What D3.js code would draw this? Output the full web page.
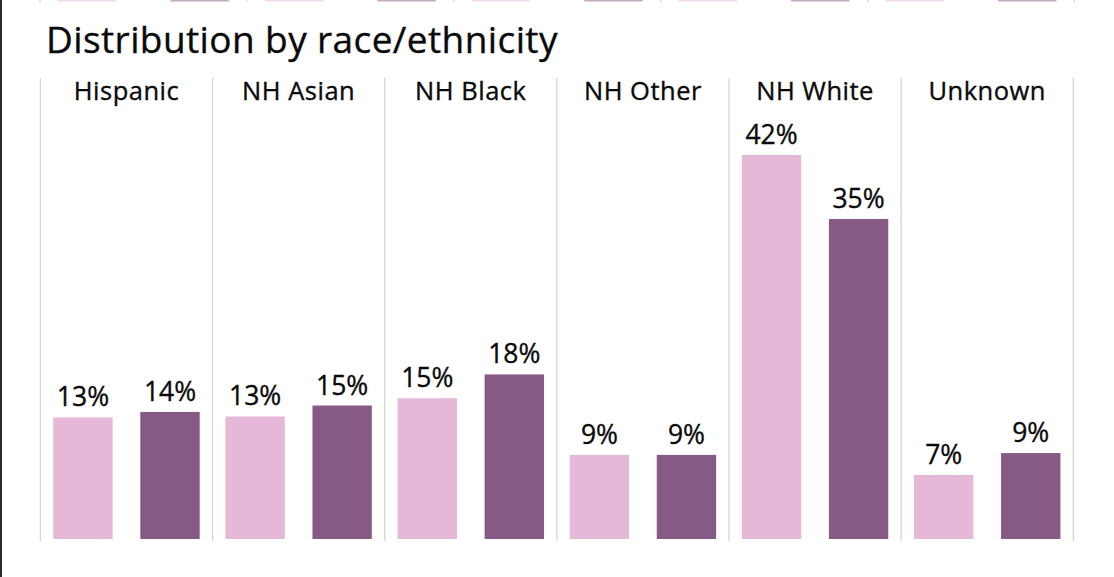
<!DOCTYPE html>
<html>
<head>
<meta charset="utf-8">
<script src="https://cdn.jsdelivr.net/npm/d3@7"></script>
<style>
  html, body { margin: 0; padding: 0; background: #fff; }
  svg { display: block; }
  text { font-family: "Open Sans", "Noto Sans", sans-serif; fill: #0a0a0a; stroke: #0a0a0a; stroke-width: 0.35px; font-weight: 400; }
</style>
</head>
<body>
<svg id="chart" width="1114" height="577"></svg>
<script>
// ---- data ----
const title = "Distribution by race/ethnicity";
const categories = ["Hispanic", "NH Asian", "NH Black", "NH Other", "NH White", "Unknown"];
const seriesNames = ["Group A", "Group B"];
const seriesA = [13.3, 13.4, 15.4, 9.2, 42.0, 7.0];
const seriesB = [13.9, 14.6, 18.0, 9.2, 35.0, 9.4];
const seriesColors = ["#e6b8d7", "#875a86"];
// panels of the (cut off) chart above this one
const upperCategories = ["p1", "p2", "p3", "p4", "p5"];

// ---- layout ----
const W = 1114, H = 577;
const svg = d3.select("#chart");

svg.append("rect").attr("x", 0).attr("y", 0).attr("width", 2).attr("height", H).attr("fill", "#2a2a2a");

// remnants of the chart above (bottom edges only visible)
const xUpper = d3.scaleBand(upperCategories, [40, 1074.4]);
const xUpperInner = d3.scaleBand(seriesNames, [0, xUpper.bandwidth()]).paddingInner(0.48).paddingOuter(0.16);
upperCategories.forEach(c => {
  seriesNames.forEach((s, j) => {
    svg.append("rect")
      .attr("x", xUpper(c) + xUpperInner(s))
      .attr("y", 0).attr("width", xUpperInner.bandwidth()).attr("height", 1.5)
      .attr("fill", seriesColors[j]).attr("opacity", 0.5);
  });
});
svg.selectAll(".udiv").data(upperCategories.concat(["end"])).join("rect")
  .attr("x", (d, i) => (i < upperCategories.length ? xUpper(d) : 1074.4) - 0.5)
  .attr("y", 0).attr("width", 1).attr("height", 2).attr("fill", "#d0d0d0");

// title
svg.append("text").attr("x", 46).attr("y", 52.5)
  .attr("font-size", 37).attr("letter-spacing", 0.4)
  .text(title);

const x = d3.scaleBand(categories, [40.4, 1073.3]);
const xInner = d3.scaleBand(seriesNames, [0, x.bandwidth()]).paddingInner(0.318).paddingOuter(0.148);
const y = d3.scaleLinear().domain([0, 42]).range([539, 155]);

// dividers
const divs = categories.map(c => x(c)).concat([x.range()[1]]);
svg.selectAll(".div").data(divs).join("line")
  .attr("x1", d => d).attr("x2", d => d)
  .attr("y1", 78).attr("y2", 541)
  .attr("stroke", "#d3d3d3").attr("stroke-width", 1.2);

// headers
svg.selectAll(".hdr").data(categories).join("text")
  .attr("x", d => x(d) + x.bandwidth() / 2).attr("y", 99.5)
  .attr("text-anchor", "middle").attr("font-size", 25.5).attr("letter-spacing", 0.5)
  .text(d => d);

// bars
const rows = [];
categories.forEach((c, i) => {
  rows.push({ c, s: seriesNames[0], v: seriesA[i], color: seriesColors[0] });
  rows.push({ c, s: seriesNames[1], v: seriesB[i], color: seriesColors[1] });
});
svg.selectAll(".bar").data(rows).join("rect")
  .attr("x", d => x(d.c) + xInner(d.s))
  .attr("y", d => y(d.v))
  .attr("width", xInner.bandwidth())
  .attr("height", d => y(0) - y(d.v))
  .attr("fill", d => d.color);

svg.selectAll(".lbl").data(rows).join("text")
  .attr("x", d => x(d.c) + xInner(d.s) + xInner.bandwidth() / 2)
  .attr("y", d => y(d.v) - 11)
  .attr("text-anchor", "middle").attr("font-size", 26.5).attr("letter-spacing", 0)
  .text(d => Math.round(d.v) + "%");
</script>
</body>
</html>
